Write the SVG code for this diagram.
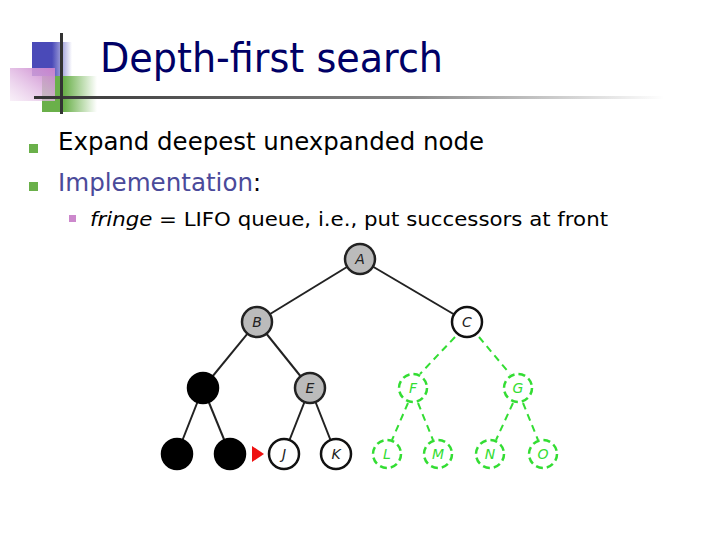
<svg xmlns="http://www.w3.org/2000/svg" width="720" height="540" viewBox="0 0 720 540">
<defs>
<linearGradient id="gb" x1="0" x2="1"><stop offset="0.5" stop-color="#4a4ab8"/><stop offset="1" stop-color="#4a4ab8" stop-opacity="0"/></linearGradient>
<linearGradient id="gg" x1="0" x2="1"><stop offset="0.4" stop-color="#6ab04a"/><stop offset="1" stop-color="#6ab04a" stop-opacity="0"/></linearGradient>
<linearGradient id="gp" x1="1" x2="0" y1="0" y2="1"><stop offset="0" stop-color="#c880cc"/><stop offset="1" stop-color="#f4e6f4" stop-opacity="0.6"/></linearGradient>
<linearGradient id="gl" x1="0" x2="1"><stop offset="0" stop-color="#333"/><stop offset="0.6" stop-color="#888"/><stop offset="1" stop-color="#888" stop-opacity="0"/></linearGradient>
<style>
.t{font-family:"DejaVu Sans",Verdana,sans-serif}
.e{stroke:#222;stroke-width:2}
.g{stroke:#33dd33;stroke-width:2;stroke-dasharray:7,5}
.n circle{stroke-width:2.5}
.gray{fill:#bbb;stroke:#222}
.w{fill:#fff;stroke:#111}
.blk{fill:#000;stroke:#000}
.gn{fill:#fff;stroke:#33dd33;stroke-dasharray:7,4}
.l{font-family:"DejaVu Sans",sans-serif;font-size:14px;font-style:italic;text-anchor:middle;fill:#222}
.lg{fill:#33dd33}
</style>
</defs>
<rect width="720" height="540" fill="#fff"/>
<g id="logo">
<rect x="32" y="42" width="40" height="34" fill="url(#gb)"/>
<rect x="42" y="76" width="55" height="36" fill="url(#gg)"/>
<rect x="10" y="68" width="45" height="33" fill="url(#gp)"/>
<rect x="34" y="96" width="630" height="3" fill="url(#gl)"/>
<rect x="60" y="33" width="3" height="81" fill="#333"/>
</g>
<text class="t" x="100" y="72" font-size="40" fill="#000066" textLength="343" lengthAdjust="spacingAndGlyphs">Depth-first search</text>
<rect x="29" y="144" width="9" height="9" fill="#6ab04a"/>
<rect x="29" y="182" width="9" height="9" fill="#6ab04a"/>
<text class="t" x="58" y="150" font-size="24" fill="#000" textLength="426" lengthAdjust="spacingAndGlyphs">Expand deepest unexpanded node</text>
<text class="t" x="58" y="191" font-size="24" fill="#000"><tspan fill="#4a4a9a" textLength="195" lengthAdjust="spacingAndGlyphs">Implementation</tspan>:</text>
<rect x="69" y="215" width="7" height="7" fill="#cc88cc"/>
<text class="t" x="90" y="226" font-size="20" fill="#000" textLength="518" lengthAdjust="spacingAndGlyphs"><tspan font-style="italic">fringe</tspan> = LIFO queue, i.e., put successors at front</text>
<g id="edges">
<line class="e" x1="360" y1="259" x2="257" y2="322"/>
<line class="e" x1="360" y1="259" x2="467" y2="322"/>
<line class="e" x1="257" y1="322" x2="203" y2="388"/>
<line class="e" x1="257" y1="322" x2="310" y2="388"/>
<line class="e" x1="203" y1="388" x2="177" y2="454"/>
<line class="e" x1="203" y1="388" x2="230" y2="454"/>
<line class="e" x1="310" y1="388" x2="284" y2="454"/>
<line class="e" x1="310" y1="388" x2="336" y2="454"/>
<line class="g" x1="455" y1="337" x2="420" y2="374"/>
<line class="g" x1="479" y1="337" x2="510" y2="374"/>
<line class="g" x1="408" y1="403" x2="392" y2="440"/>
<line class="g" x1="418" y1="403" x2="433" y2="440"/>
<line class="g" x1="513" y1="403" x2="496" y2="440"/>
<line class="g" x1="523" y1="403" x2="538" y2="440"/>
<polygon points="252,446 264,454 252,462" fill="#ee1111"/>
</g>
<g id="nA" class="n"><circle class="gray" cx="360" cy="259" r="15"/><text class="l" x="360" y="264">A</text></g>
<g id="nB" class="n"><circle class="gray" cx="257" cy="322" r="15"/><text class="l" x="257" y="327">B</text></g>
<g id="nC" class="n"><circle class="w" cx="467" cy="322" r="15"/><text class="l" x="467" y="327">C</text></g>
<g id="nD" class="n"><circle class="blk" cx="203" cy="388" r="15"/></g>
<g id="nE" class="n"><circle class="gray" cx="310" cy="388" r="15"/><text class="l" x="310" y="393">E</text></g>
<g id="nF" class="n"><circle class="gn" cx="413" cy="388" r="14"/><text class="l lg" x="413" y="393">F</text></g>
<g id="nG" class="n"><circle class="gn" cx="518" cy="388" r="14"/><text class="l lg" x="518" y="393">G</text></g>
<g id="nH" class="n"><circle class="blk" cx="177" cy="454" r="15"/></g>
<g id="nI" class="n"><circle class="blk" cx="230" cy="454" r="15"/></g>
<g id="nJ" class="n"><circle class="w" cx="284" cy="454" r="15"/><text class="l" x="284" y="459">J</text></g>
<g id="nK" class="n"><circle class="w" cx="336" cy="454" r="15"/><text class="l" x="336" y="459">K</text></g>
<g id="nL" class="n"><circle class="gn" cx="387" cy="454" r="14"/><text class="l lg" x="387" y="459">L</text></g>
<g id="nM" class="n"><circle class="gn" cx="438" cy="454" r="14"/><text class="l lg" x="438" y="459">M</text></g>
<g id="nN" class="n"><circle class="gn" cx="490" cy="454" r="14"/><text class="l lg" x="490" y="459">N</text></g>
<g id="nO" class="n"><circle class="gn" cx="543" cy="454" r="14"/><text class="l lg" x="543" y="459">O</text></g>
</svg>
